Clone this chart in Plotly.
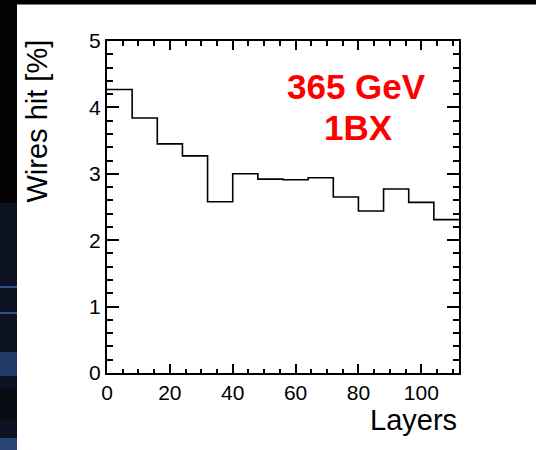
import plotly.graph_objects as go

# ---- data ----
bin_edges = [0, 8, 16, 24, 32, 40, 48, 56, 64, 72, 80, 88, 96, 104, 112]
wires_hit = [4.27, 3.84, 3.45, 3.27, 2.58, 3.00, 2.92, 2.91, 2.94, 2.65, 2.44, 2.77, 2.57, 2.31]
x_ticks = [0, 20, 40, 60, 80, 100]
y_ticks = [0, 1, 2, 3, 4, 5]

W, H = 536, 450
L, R, T, B = 107, 459, 41, 373


def px(xp):
    return (xp - L) / (R - L)


def py(yp):
    return (B - yp) / (B - T)


xs = bin_edges[:-1] + [bin_edges[-1]]
ys = wires_hit + [wires_hit[-1]]

fig = go.Figure()
fig.add_trace(go.Scatter(x=xs, y=ys, mode="lines", line=dict(shape="hv", color="black", width=1.6),
                         showlegend=False, hoverinfo="skip"))

font_family = "Liberation Sans, Arial, Helvetica, sans-serif"

axis_common = dict(showline=True, linecolor="black", linewidth=2, mirror="allticks",
                   ticks="inside", tickcolor="black", tickwidth=1.5, showgrid=False, zeroline=False,
                   tickfont=dict(family=font_family, size=21, color="black"))

fig.update_xaxes(range=[0, 112], tickvals=x_ticks, ticklen=9,
                 minor=dict(dtick=5, tick0=0, ticklen=4.5, ticks="inside", tickcolor="black", tickwidth=1.5),
                 **axis_common)
fig.update_yaxes(range=[0, 5], tickvals=y_ticks, ticklen=12,
                 minor=dict(dtick=0.2, tick0=0, ticklen=6, ticks="inside", tickcolor="black", tickwidth=1.5),
                 **axis_common)

shapes = []
# background decorations (slide edges)
shapes.append(dict(type="rect", xref="paper", yref="paper", x0=px(0), x1=px(W), y0=py(0), y1=py(4.5),
                   fillcolor="black", line=dict(width=0), layer="below"))
shapes.append(dict(type="rect", xref="paper", yref="paper", x0=px(0), x1=px(17), y0=py(0), y1=py(H),
                   fillcolor="#0c1222", line=dict(width=0), layer="below"))
shapes.append(dict(type="rect", xref="paper", yref="paper", x0=px(0), x1=px(17), y0=py(0), y1=py(203),
                   fillcolor="#030305", line=dict(width=0), layer="below"))
for y0, y1, c in [(286, 288, "#34508a"), (312, 314, "#34508a"), (352, 376, "#233a66"),
                  (388, 420, "#080b12"), (438, 450, "#2b4477")]:
    shapes.append(dict(type="rect", xref="paper", yref="paper", x0=px(0), x1=px(17), y0=py(y0), y1=py(y1),
                       fillcolor=c, line=dict(width=0), layer="below"))

annotations = [
    dict(text="365 GeV", xref="paper", yref="paper", x=px(356), y=py(86), xanchor="center", yanchor="middle",
         showarrow=False, font=dict(family=font_family, size=35, color="#ff0000", weight="bold")),
    dict(text="1BX", xref="paper", yref="paper", x=px(358), y=py(127), xanchor="center", yanchor="middle",
         showarrow=False, font=dict(family=font_family, size=35, color="#ff0000", weight="bold")),
    dict(text="Wires hit [%]", xref="paper", yref="paper", x=px(36.5), y=py(121), xanchor="center",
         yanchor="middle", textangle=-90, showarrow=False,
         font=dict(family=font_family, size=29, color="black")),
    dict(text="Layers", xref="paper", yref="paper", x=px(459), y=py(420), xanchor="right",
         yanchor="middle", showarrow=False, font=dict(family=font_family, size=29, color="black")),
]

fig.update_layout(width=W, height=H, margin=dict(l=L, r=W - R, t=T, b=H - B, pad=0),
                  paper_bgcolor="white", plot_bgcolor="white", shapes=shapes, annotations=annotations,
                  showlegend=False)

fig.write_html("out.html", config={"displayModeBar": False},
               post_script="document.body.style.margin='0';document.body.style.overflow='hidden';")
